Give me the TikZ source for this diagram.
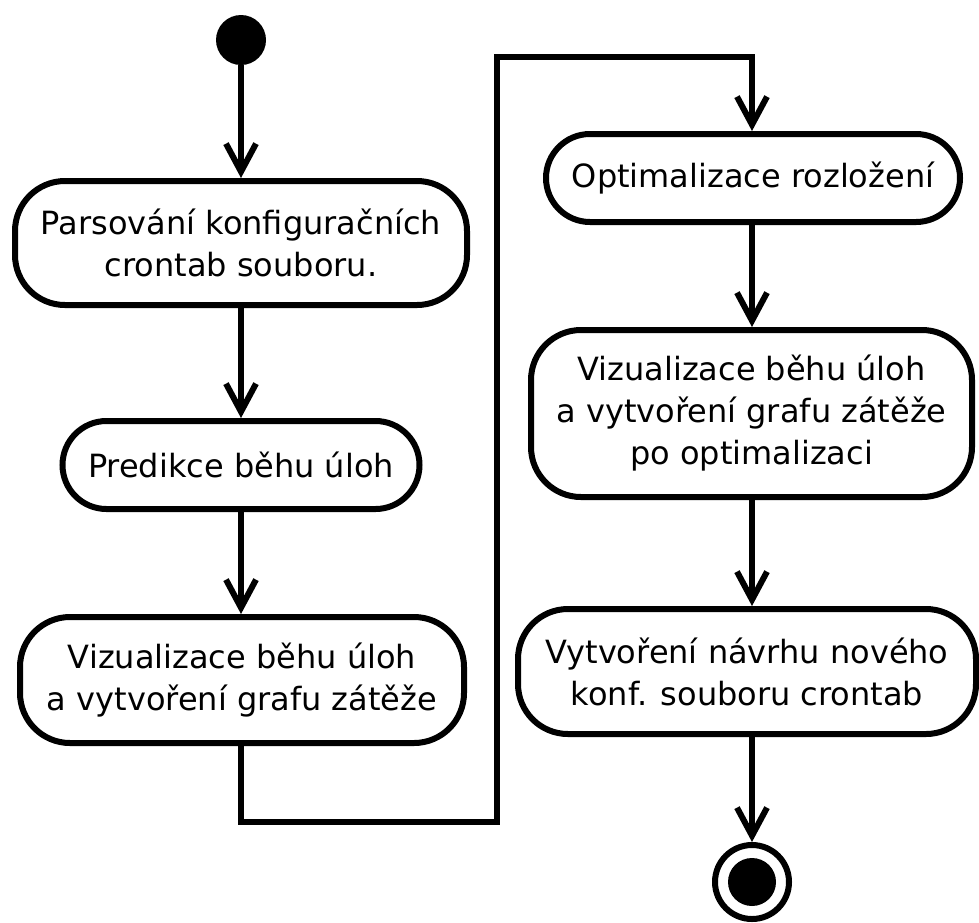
\documentclass[tikz,border=0pt]{standalone}
\usepackage{fontspec}
\setmainfont{DejaVu Sans}
\usetikzlibrary{arrows.meta}
\begin{document}
\begin{tikzpicture}[x=1pt,y=-1pt,
  every node/.style={inner sep=0pt},
  act/.style={draw, line width=6pt, align=center, font=\fontsize{32}{42}\selectfont},
  flow/.style={line width=6pt, -{Straight Barb[length=28pt,width=30pt]}},
  conn/.style={line width=6pt}]
\useasboundingbox (0,0) rectangle (979,922);
\node[fill=black, circle, minimum size=50pt] (s) at (241,40) {};
\node[act, rounded corners=50pt, minimum width=452pt, minimum height=124pt] (n1) at (241,243) {Parsování konfiguračních\\crontab souboru.};
\node[act, rounded corners=44pt, minimum width=357pt, minimum height=88pt] (n2) at (241,465) {Predikce běhu úloh};
\node[act, rounded corners=50pt, minimum width=444pt, minimum height=126pt] (n3) at (242,680) {Vizualizace běhu úloh\\a vytvoření grafu zátěže};
\node[act, rounded corners=44pt, minimum width=414pt, minimum height=88pt] (n4) at (753,178) {Optimalizace rozložení};
\node[act, rounded corners=50pt, minimum width=441pt, minimum height=167pt] (n5) at (751.5,413.5) {Vizualizace běhu úloh\\a vytvoření grafu zátěže\\po optimalizaci};
\node[act, rounded corners=50pt, minimum width=458pt, minimum height=125pt] (n6) at (747,671.5) {Vytvoření návrhu nového\\konf. souboru crontab};
\node[draw, circle, line width=6pt, minimum size=74pt] (e) at (752,882) {};
\node[fill=black, circle, minimum size=48pt] (ei) at (752,882) {};
\coordinate (c1) at (497,822);
\coordinate (c2) at (497,57);
\draw[flow] (s) -- (n1.north -| s);
\draw[flow] (n1.south -| s) -- (n2.north -| s);
\draw[flow] (n2.south -| s) -- (n3.north -| s);
\draw[flow] (n3.south -| s) |- (c1) -- (c2) -| (n4.north -| e);
\draw[flow] (n4.south -| e) -- (n5.north -| e);
\draw[flow] (n5.south -| e) -- (n6.north -| e);
\draw[flow] (n6.south -| e) -- (e);
\end{tikzpicture}
\end{document}
